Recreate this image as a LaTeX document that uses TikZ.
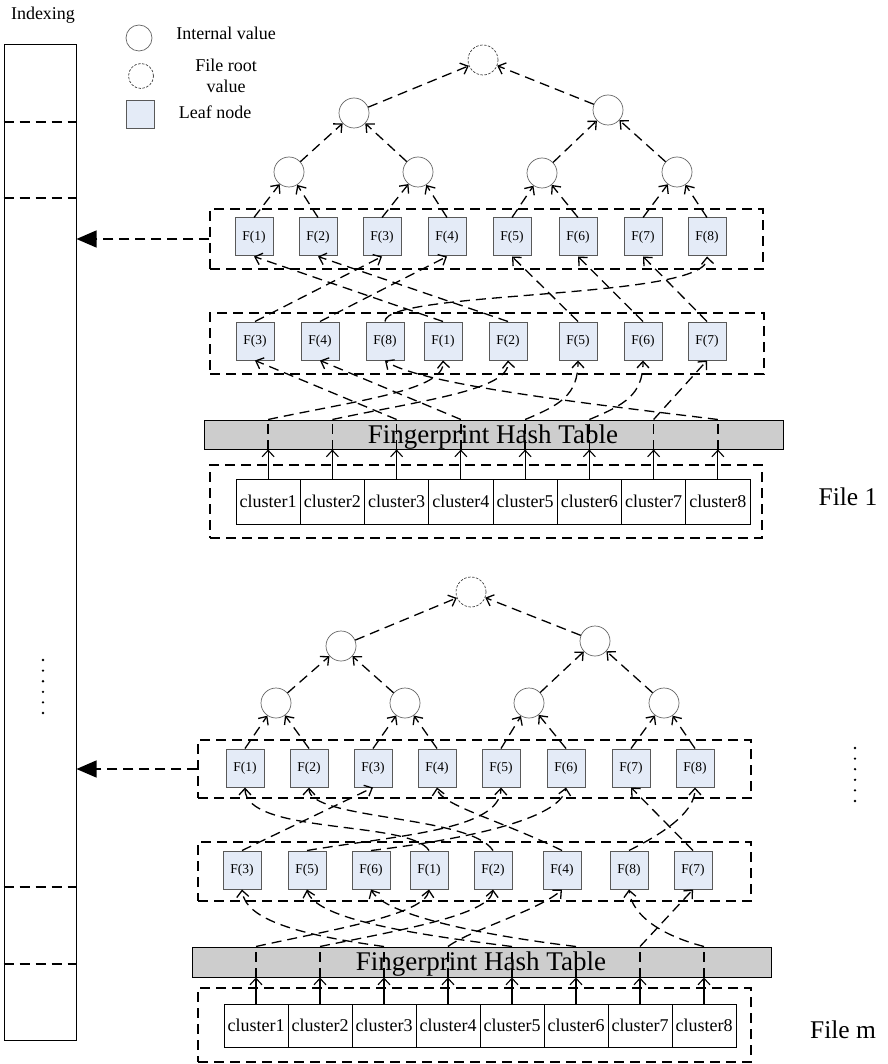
\documentclass[tikz,border=0pt]{standalone}
\usepackage{fontspec}
\setmainfont{Liberation Serif}
\usetikzlibrary{arrows.meta,calc}
\definecolor{leafblue}{RGB}{228,235,247}
\definecolor{hashgray}{RGB}{205,205,205}
\begin{document}
\begin{tikzpicture}[x=1pt,y=-1pt,
  dsh/.style={dash pattern=on 10pt off 6pt, line width=1.3pt},
  con/.style={dsh, -{Straight Barb[length=6.5pt,width=12pt]}},
  sol/.style={line width=1.1pt, -{Straight Barb[length=6.5pt,width=12pt]}},
  leaf/.style={draw=black!65, line width=1pt, fill=leafblue, minimum width=38, minimum height=38, inner sep=0pt, font=\fontsize{13.5}{15}\selectfont},
  innerc/.style={circle, draw=black!60, line width=0.7pt, minimum size=30, inner sep=0pt},
  rootc/.style={circle, draw=black!75, dash pattern=on 2.5pt off 1.5pt, line width=0.7pt, minimum size=30, inner sep=0pt},
  grp/.style={draw, dsh, inner sep=0pt},
  clu/.style={draw, line width=1pt, minimum height=45, inner sep=0pt, font=\fontsize{18}{20}\selectfont},
  hashb/.style={draw, line width=1pt, fill=hashgray, inner sep=0pt},
  htext/.style={font=\fontsize{27}{30}\selectfont, anchor=base, inner sep=0pt},
  lbl/.style={font=\fontsize{18}{20}\selectfont, inner sep=0pt},
  big/.style={font=\fontsize{25.5}{28}\selectfont, inner sep=0pt},
  idxarrow/.style={dsh, -{Triangle[length=20pt,width=17pt]}}
]
\useasboundingbox (0,0) rectangle (887,1064);

% ---------------- Indexing bar ----------------
\node[draw, line width=1pt, minimum width=72, minimum height=995, inner sep=0pt] (idx) at (40,542.5) {};
\node[lbl, anchor=base] (idxlabel) at (43,20) {Indexing};
\foreach \yy in {122,198,887,964} \draw[dsh] (idx.west |- 0,\yy) -- (idx.east |- 0,\yy);
\foreach \yy in {660,670.6,681.2,691.8,702.4,713} \fill (43,\yy) circle (1.3);
\foreach \yy in {748,758.6,769.2,779.8,790.4,801} \fill (855,\yy) circle (1.3);

% ---------------- Legend ----------------
\node[innerc, minimum size=26] (lg1) at (139,38) {};
\node[lbl, anchor=base] (lgt1) at (226,40) {Internal value};
\node[rootc, minimum size=25] (lg2) at (141,76) {};
\node[lbl, anchor=base] (lgt2) at (226,72) {File root};
\node[lbl, anchor=base] (lgt3) at (226,93) {value};
\node[leaf, minimum width=28, minimum height=28] (lg3) at (140,115) {};
\node[lbl, anchor=base] (lgt4) at (215,119) {Leaf node};

% ================= FILE 1 =================
\node[rootc] (r) at (483,60) {};
\node[innerc] (u1) at (354,113) {};
\node[innerc] (u2) at (608,110) {};
\node[innerc] (v1) at (289,172) {};
\node[innerc] (v2) at (418,172) {};
\node[innerc] (v3) at (542,173) {};
\node[innerc] (v4) at (677,172) {};

\node[grp, minimum width=553, minimum height=60] (g1) at (486.5,239) {};
\node[leaf] (a1) at (254,237) {F(1)};
\node[leaf] (a2) at (318,237) {F(2)};
\node[leaf] (a3) at (382,237) {F(3)};
\node[leaf] (a4) at (447,237) {F(4)};
\node[leaf] (a5) at (512,237) {F(5)};
\node[leaf] (a6) at (578,237) {F(6)};
\node[leaf] (a7) at (643,237) {F(7)};
\node[leaf] (a8) at (707,237) {F(8)};

\node[grp, minimum width=554, minimum height=61] (g2) at (487,343.5) {};
\node[leaf] (p3) at (255,341) {F(3)};
\node[leaf] (p4) at (320,341) {F(4)};
\node[leaf] (p8) at (385,341) {F(8)};
\node[leaf] (p1) at (443,341) {F(1)};
\node[leaf] (p2) at (508,341) {F(2)};
\node[leaf] (p5) at (578,341) {F(5)};
\node[leaf] (p6) at (643,341) {F(6)};
\node[leaf] (p7) at (707,341) {F(7)};

\node[hashb, minimum width=579, minimum height=29] (h) at (493.5,434.5) {};
\node[grp, minimum width=552, minimum height=73] (g3) at (486,501.5) {};
\foreach \i in {1,...,8} {
  \node[clu, minimum width=64.25] (c\i) at ({236+64.25*(\i-0.5)},501.5) {cluster\i};
}
\foreach \i in {1,...,8} {
  \draw[sol] (c\i.north) -- (c\i.north |- h.south);
  \draw[dsh] (c\i.north |- h.south) -- (c\i.north |- h.north);
}
\node[htext] (ht) at (493,443) {Fingerprint Hash Table};
\node[big] (f1) at (848,497) {File 1};

% tree arrows
\draw[con] (a1.north) -- (v1);
\draw[con] (a2.north) -- (v1);
\draw[con] (a3.north) -- (v2);
\draw[con] (a4.north) -- (v2);
\draw[con] (a5.north) -- (v3);
\draw[con] (a6.north) -- (v3);
\draw[con] (a7.north) -- (v4);
\draw[con] (a8.north) -- (v4);
\draw[con] (v1) -- (u1);
\draw[con] (v2) -- (u1);
\draw[con] (v3) -- (u2);
\draw[con] (v4) -- (u2);
\draw[con] (u1) -- (r);
\draw[con] (u2) -- (r);

% middle -> top
\draw[con] (p3.north) -- (a3.south);
\draw[con] (p4.north) -- (a4.south);
\draw[con] (p8.north) .. controls (385,290) and (710,300) .. (a8.south);
\draw[con] (p1.north) -- (a1.south);
\draw[con] (p2.north) -- (a2.south);
\draw[con] (p5.north) -- (a5.south);
\draw[con] (p6.north) -- (a6.south);
\draw[con] (p7.north) -- (a7.south);

% hash -> middle
\draw[con] (c1.north |- h.north) .. controls (360,400) and (445,390) .. (p1.south);
\draw[con] (c2.north |- h.north) .. controls (424,400) and (510,390) .. (p2.south);
\draw[con] (c3.north |- h.north) -- (p3.south);
\draw[con] (c4.north |- h.north) -- (p4.south);
\draw[con] (c5.north |- h.north) .. controls (560,405) and (578,395) .. (p5.south);
\draw[con] (c6.north |- h.north) .. controls (624,405) and (643,395) .. (p6.south);
\draw[con] (c7.north |- h.north) -- (p7.south);
\draw[con] (c8.north |- h.north) .. controls (600,405) and (420,385) .. (p8.south);

\draw[idxarrow] (g1.west) -- (g1.west -| idx.east);

% ================= FILE m =================
\node[rootc] (mr) at (471,592) {};
\node[innerc] (mu1) at (341,646) {};
\node[innerc] (mu2) at (595,641) {};
\node[innerc] (mv1) at (276,703) {};
\node[innerc] (mv2) at (405,703) {};
\node[innerc] (mv3) at (529,703) {};
\node[innerc] (mv4) at (664,703) {};

\node[grp, minimum width=553, minimum height=58] (mg1) at (474.5,769) {};
\node[leaf] (ma1) at (245,768) {F(1)};
\node[leaf] (ma2) at (309,768) {F(2)};
\node[leaf] (ma3) at (373,768) {F(3)};
\node[leaf] (ma4) at (437,768) {F(4)};
\node[leaf] (ma5) at (501,768) {F(5)};
\node[leaf] (ma6) at (566,768) {F(6)};
\node[leaf] (ma7) at (631,768) {F(7)};
\node[leaf] (ma8) at (695,768) {F(8)};

\node[grp, minimum width=553, minimum height=59] (mg2) at (474.5,871.5) {};
\node[leaf] (mp3) at (242,870) {F(3)};
\node[leaf] (mp5) at (307,870) {F(5)};
\node[leaf] (mp6) at (371,870) {F(6)};
\node[leaf] (mp1) at (429,870) {F(1)};
\node[leaf] (mp2) at (493,870) {F(2)};
\node[leaf] (mp4) at (562,870) {F(4)};
\node[leaf] (mp8) at (629,870) {F(8)};
\node[leaf] (mp7) at (693,870) {F(7)};

\node[hashb, minimum width=579, minimum height=30] (mh) at (481.5,962) {};
\node[grp, minimum width=553, minimum height=74] (mg3) at (474.5,1025) {};
\foreach \i in {1,...,8} {
  \node[clu, minimum width=64, minimum height=43] (mc\i) at ({224+64*(\i-0.5)},1025.5) {cluster\i};
}
\foreach \i in {1,...,8} {
  \draw[sol] (mc\i.north) -- (mc\i.north |- mh.south);
  \draw[dsh] (mc\i.north |- mh.south) -- (mc\i.north |- mh.north);
}
\node[htext] (mht) at (481,970) {Fingerprint Hash Table};
\node[big] (fm) at (843,1030) {File m};

% tree arrows
\draw[con] (ma1.north) -- (mv1);
\draw[con] (ma2.north) -- (mv1);
\draw[con] (ma3.north) -- (mv2);
\draw[con] (ma4.north) -- (mv2);
\draw[con] (ma5.north) -- (mv3);
\draw[con] (ma6.north) -- (mv3);
\draw[con] (ma7.north) -- (mv4);
\draw[con] (ma8.north) -- (mv4);
\draw[con] (mv1) -- (mu1);
\draw[con] (mv2) -- (mu1);
\draw[con] (mv3) -- (mu2);
\draw[con] (mv4) -- (mu2);
\draw[con] (mu1) -- (mr);
\draw[con] (mu2) -- (mr);

% middle -> top
\draw[con] (mp3.north) -- (ma3.south);
\draw[con] (mp5.north) .. controls (400,835) and (500,830) .. (ma5.south);
\draw[con] (mp6.north) .. controls (460,840) and (560,820) .. (ma6.south);
\draw[con] (mp1.north) .. controls (410,820) and (245,835) .. (ma1.south);
\draw[con] (mp2.north) .. controls (470,815) and (309,820) .. (ma2.south);
\draw[con] (mp4.north) .. controls (500,820) and (440,805) .. (ma4.south);
\draw[con] (mp8.north) .. controls (670,830) and (695,810) .. (ma8.south);
\draw[con] (mp7.north) -- (ma7.south);

% hash -> middle
\draw[con] (mc1.north |- mh.north) .. controls (330,930) and (425,915) .. (mp1.south);
\draw[con] (mc2.north |- mh.north) .. controls (400,930) and (490,915) .. (mp2.south);
\draw[con] (mc3.north |- mh.north) .. controls (300,935) and (245,920) .. (mp3.south);
\draw[con] (mc4.north |- mh.north) .. controls (470,930) and (540,910) .. (mp4.south);
\draw[con] (mc5.north |- mh.north) .. controls (420,935) and (315,920) .. (mp5.south);
\draw[con] (mc6.north |- mh.north) .. controls (480,935) and (385,915) .. (mp6.south);
\draw[con] (mc7.north |- mh.north) -- (mp7.south);
\draw[con] (mc8.north |- mh.north) .. controls (660,935) and (632,915) .. (mp8.south);

\draw[idxarrow] (mg1.west) -- (mg1.west -| idx.east);
\end{tikzpicture}
\end{document}
